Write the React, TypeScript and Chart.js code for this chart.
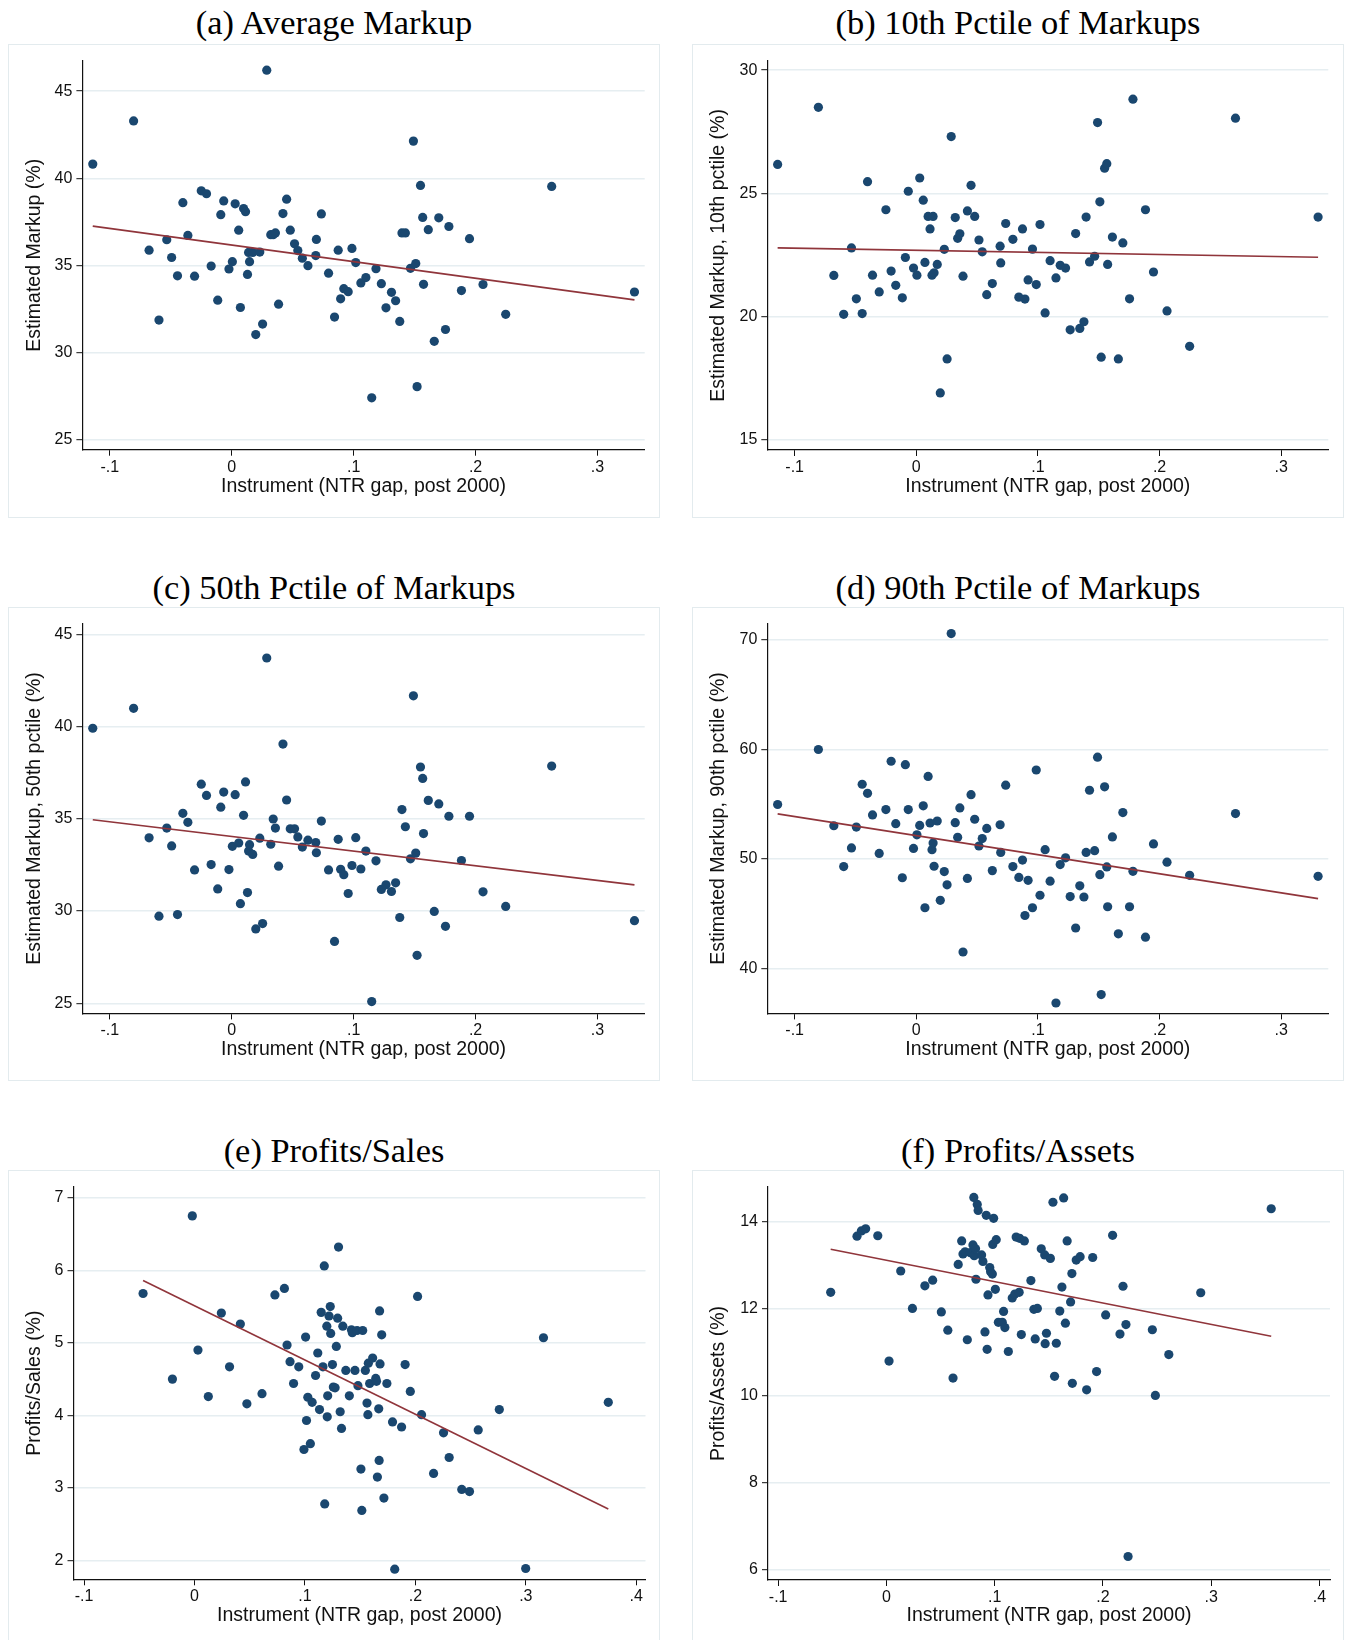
import React, { useEffect, useRef } from "react";
import { Chart, registerables } from "chart.js";

Chart.register(...registerables);

// ---- data -------------------------------------------------------------

// NTR gap instrument for the 82 industries used in the markup panels (a)-(d)
const instrument = [
  -0.114, -0.0805, -0.0678, -0.0597, -0.0533, -0.0493, -0.0445, -0.0401, -0.036, -0.0305,
  -0.025, -0.0207, -0.0169, -0.0115, -0.009, -0.0066, -0.0023, 0.0005, 0.0028, 0.0057,
  0.0071, 0.0097, 0.0113, 0.0129, 0.0138, 0.0146, 0.0172, 0.0197, 0.023, 0.0253,
  0.0287, 0.032, 0.034, 0.0358, 0.0384, 0.042, 0.045, 0.048, 0.0515, 0.0542,
  0.0579, 0.0625, 0.0689, 0.0694, 0.0735, 0.0794, 0.0843, 0.0873, 0.0893, 0.0919,
  0.0955, 0.0986, 0.1017, 0.1059, 0.11, 0.1148, 0.1183, 0.1227, 0.1265, 0.131,
  0.1344, 0.1378, 0.1396, 0.1424, 0.1466, 0.149, 0.1509, 0.152, 0.1548, 0.1566,
  0.1573, 0.1612, 0.1661, 0.1698, 0.1753, 0.1781, 0.1884, 0.195, 0.2061, 0.2247,
  0.2624, 0.3303,
];

const avgMarkup = [
  40.81, 43.29, 35.87, 31.86, 36.47, 35.45, 34.4, 38.6, 36.72, 34.38,
  39.28, 39.11, 34.96, 33.0, 37.91, 38.7, 34.79, 35.21, 38.53, 37.02,
  32.58, 38.26, 38.08, 34.48, 35.74, 35.21, 35.74, 31.03, 35.76, 31.63,
  46.2, 36.76, 36.76, 36.86, 32.77, 37.97, 38.8, 37.02, 36.24, 35.85,
  35.41, 34.98, 35.56, 36.49, 37.95, 34.55, 32.03, 35.87, 33.08, 33.66,
  33.49, 35.97, 35.16, 33.99, 34.3, 27.4, 34.81, 33.95, 32.56, 33.45,
  32.97, 31.78, 36.86, 36.86, 34.83, 42.13, 35.1, 28.04, 39.59, 37.75,
  33.91, 37.05, 30.64, 37.73, 31.32, 37.23, 33.55, 36.53, 33.9, 32.19,
  39.53, 33.47,
];

const p10Markup = [
  26.17, 28.49, 21.66, 20.08, 22.78, 20.71, 20.11, 25.47, 21.67, 20.99,
  24.33, 21.84, 21.26, 20.75, 22.39, 25.08, 21.96, 21.67, 25.62, 24.72,
  22.19, 24.06, 23.55, 21.67, 24.06, 21.77, 22.11, 16.89, 22.72, 18.27,
  27.3, 24.01, 23.17, 23.35, 21.63, 24.28, 25.32, 24.06, 23.1, 22.62,
  20.88, 21.33, 22.85, 22.17, 23.77, 23.13, 20.78, 23.55, 20.7, 21.48,
  22.73, 21.29, 23.73, 20.14, 22.26, 21.56, 22.07, 21.96, 19.45, 23.36,
  19.51, 19.78, 24.03, 22.21, 22.44, 27.87, 24.65, 18.34, 26.02, 26.2,
  22.11, 23.22, 18.27, 22.98, 20.71, 28.82, 24.33, 21.8, 20.22, 18.78,
  28.05, 24.03,
];

const p50Markup = [
  39.91, 40.99, 33.97, 29.72, 34.5, 33.53, 29.81, 35.3, 34.81, 32.23,
  36.88, 36.27, 32.52, 31.2, 35.63, 36.45, 32.25, 33.51, 36.31, 33.69,
  30.4, 35.19, 37.0, 31.0, 33.25, 33.6, 33.07, 29.03, 33.95, 29.32,
  43.72, 33.62, 34.99, 34.5, 32.43, 39.05, 36.02, 34.46, 34.46, 34.02,
  33.47, 33.84, 33.71, 33.16, 34.88, 32.23, 28.35, 33.89, 32.26, 31.97,
  30.95, 32.47, 33.98, 32.28, 33.25, 25.09, 32.72, 31.17, 31.42, 31.06,
  31.53, 29.65, 35.5, 34.57, 32.83, 41.67, 33.14, 27.6, 37.81, 37.19,
  34.2, 36.0, 29.98, 35.81, 29.17, 35.14, 32.74, 35.14, 31.04, 30.25,
  37.86, 29.48,
];

const p90Markup = [
  54.98, 60.0, 53.04, 49.31, 51.01, 52.92, 56.83, 56.0, 54.03, 50.51,
  54.52, 58.93, 53.23, 48.29, 58.62, 54.52, 50.97, 52.21, 53.07, 54.86,
  45.55, 57.54, 53.29, 50.85, 51.47, 49.34, 53.47, 46.23, 48.85, 47.64,
  70.59, 53.32, 51.99, 54.67, 41.51, 48.23, 55.88, 53.63, 51.19, 51.87,
  52.79, 48.94, 53.13, 50.6, 56.74, 49.31, 48.32, 49.9, 44.84, 48.05,
  45.55, 58.13, 46.69, 50.85, 47.98, 36.85, 49.49, 50.11, 46.57, 43.7,
  47.55, 46.53, 50.6, 56.28, 50.76, 59.3, 48.57, 37.62, 56.59, 49.28,
  45.64, 52.02, 43.17, 54.24, 45.64, 48.88, 42.86, 51.38, 49.71, 48.51,
  54.15, 48.42,
];

// Profits / sales sample
const salesInstrument = [
  -0.0466, -0.02, -0.002, 0.0031, 0.0125, 0.0243, 0.0317, 0.0415, 0.0474, 0.0611,
  0.0728, 0.0814, 0.0838, 0.0865, 0.0897, 0.0944, 0.0991, 0.1006, 0.1014, 0.1026,
  0.1049, 0.1065, 0.1096, 0.1116, 0.1132, 0.1147, 0.1163, 0.1175, 0.1179, 0.1198,
  0.1202, 0.1206, 0.1218, 0.1229, 0.1233, 0.1249, 0.1257, 0.1273, 0.1284, 0.1296,
  0.1304, 0.1319, 0.1331, 0.1343, 0.137, 0.1402, 0.1421, 0.1429, 0.1453, 0.1472,
  0.148, 0.1507, 0.1515, 0.1523, 0.1547, 0.1562, 0.157, 0.1574, 0.1586, 0.1613,
  0.1641, 0.1648, 0.1656, 0.1668, 0.1672, 0.1676, 0.168, 0.1695, 0.1715, 0.1742,
  0.1793, 0.1813, 0.1875, 0.1907, 0.1954, 0.202, 0.2056, 0.2165, 0.2255, 0.2306,
  0.242, 0.249, 0.2569, 0.276, 0.2999, 0.316, 0.3747,
];

const profitsSales = [
  5.68, 4.5, 6.75, 4.9, 4.26, 5.41, 4.67, 5.26, 4.16, 4.3,
  5.66, 5.75, 4.97, 4.74, 4.44, 4.67, 3.53, 5.08, 3.93, 4.25,
  3.61, 4.18, 4.55, 4.86, 4.08, 5.42, 4.67, 6.06, 2.78, 5.23,
  3.98, 4.27, 5.37, 5.5, 5.13, 4.7, 4.39, 4.38, 4.95, 5.34,
  6.32, 4.05, 3.82, 5.23, 4.62, 4.27, 5.18, 5.14, 4.62, 5.17,
  4.41, 3.26, 2.69, 5.17, 4.62, 4.17, 4.01, 4.72, 4.44, 4.79,
  4.51, 4.47, 3.15, 4.09, 3.38, 5.44, 4.71, 5.11, 2.86, 4.44,
  3.91, 1.88, 3.84, 4.7, 4.33, 5.64, 4.01, 3.2, 3.76, 3.42,
  2.98, 2.95, 3.8, 4.08, 1.89, 5.07, 4.18,
];

// Profits / assets sample
const assetsInstrument = [
  -0.0515, -0.0272, -0.0232, -0.0192, -0.008, 0.0024, 0.0132, 0.024, 0.0355, 0.0427,
  0.0507, 0.0567, 0.0615, 0.0663, 0.0695, 0.0707, 0.0727, 0.0747, 0.0775, 0.0799,
  0.0807, 0.0811, 0.0823, 0.0827, 0.0839, 0.0847, 0.0879, 0.0891, 0.091, 0.0922,
  0.093, 0.0938, 0.0954, 0.0962, 0.0978, 0.0982, 0.099, 0.1006, 0.1014, 0.1034,
  0.107, 0.1082, 0.1094, 0.1126, 0.1162, 0.1186, 0.1198, 0.1226, 0.123, 0.1246,
  0.1274, 0.1334, 0.1362, 0.1374, 0.1394, 0.143, 0.1462, 0.1466, 0.1478, 0.1514,
  0.1538, 0.1553, 0.1569, 0.1601, 0.1621, 0.1637, 0.1653, 0.1669, 0.1701, 0.1713,
  0.1717, 0.1753, 0.1789, 0.1849, 0.1905, 0.1941, 0.2025, 0.2089, 0.2157, 0.2185,
  0.2212, 0.2232, 0.2456, 0.2484, 0.2608, 0.2903, 0.3554,
];

const profitsAssets = [
  12.37, 13.66, 13.78, 13.83, 13.67, 10.79, 12.86, 12.0, 12.52, 12.65,
  11.92, 11.5, 10.4, 13.01, 13.55, 13.25, 13.3, 11.28, 13.28, 13.46,
  14.55, 13.21, 13.37, 12.67, 14.39, 14.25, 13.23, 13.08, 11.46, 14.14,
  11.06, 12.31, 12.94, 12.84, 12.79, 13.47, 14.07, 12.44, 13.58, 11.68,
  11.68, 11.93, 11.56, 11.01, 12.24, 12.33, 13.64, 12.37, 13.61, 11.4,
  13.55, 12.64, 11.98, 11.3, 12.0, 13.37, 13.23, 11.19, 11.43, 13.15,
  14.44, 10.44, 11.2, 11.94, 12.49, 14.54, 11.66, 13.55, 12.15, 12.8,
  10.28, 13.11, 13.19, 10.13, 13.17, 10.55, 11.85, 13.68, 11.41, 12.51,
  11.63, 6.3, 11.51, 10.0, 10.94, 12.36, 14.29,
];

// Linear fits: [x, y] at each end of the fitted line
const avgFit = [[-0.114, 37.25], [0.3303, 33.02]];
const p10Fit = [[-0.114, 22.78], [0.3303, 22.4]];
const p50Fit = [[-0.114, 34.95], [0.3303, 31.42]];
const p90Fit = [[-0.114, 54.12], [0.3303, 46.38]];
const salesFit = [[-0.0466, 5.86], [0.3747, 2.71]];
const assetsFit = [[-0.0515, 13.36], [0.3554, 11.36]];

// Tick values
const markupXTicks = [-0.1, 0, 0.1, 0.2, 0.3];
const profitXTicks = [-0.1, 0, 0.1, 0.2, 0.3, 0.4];
const avgYTicks = [25, 30, 35, 40, 45];
const p10YTicks = [15, 20, 25, 30];
const p50YTicks = [25, 30, 35, 40, 45];
const p90YTicks = [40, 50, 60, 70];
const salesYTicks = [2, 3, 4, 5, 6, 7];
const assetsYTicks = [6, 8, 10, 12, 14];

const xTitle = "Instrument (NTR gap, post 2000)";

// ---- styling ----------------------------------------------------------

const SANS = "'Liberation Sans', Arial, Helvetica, sans-serif";
const SERIF = "'Liberation Serif', 'Times New Roman', serif";
const NAVY = "#1a476f";
const MAROON = "#90353b";
const GRID = "#e6eef1";
const FRAME = "#e3ebee";
const AXIS = "#111111";

const fmtX = (v: number) => {
  const r = Math.round(v * 10) / 10;
  if (r === 0) return "0";
  const s = Math.abs(r).toString().replace(/^0/, "");
  return (r < 0 ? "-" : "") + s;
};

type PanelSpec = {
  title: string;
  yTitle: string;
  xs: number[];
  ys: number[];
  fit: number[][];
  xTicks: number[];
  yTicks: number[];
  xRange: [number, number];
  yRange: [number, number];
  box: { left: number; top: number; width: number; height: number };
  area: { left: number; top: number; right: number; bottom: number };
  titleY: number;
  xTitleOffset: number;
};

const COL_L = 8;
const COL_R = 692;
const BOX_W = 652;
const BOX_H = 474;
const ROW_T = [44, 607, 1170];

const panels: PanelSpec[] = [
  {
    title: "(a) Average Markup",
    yTitle: "Estimated Markup (%)",
    xs: instrument, ys: avgMarkup, fit: avgFit,
    xTicks: markupXTicks, yTicks: avgYTicks,
    xRange: [-0.1225, 0.3387], yRange: [24.42, 46.74],
    box: { left: COL_L, top: ROW_T[0], width: BOX_W, height: BOX_H },
    area: { left: 74.4, top: 16.8, right: 15.3, bottom: 68.3 },
    titleY: 22, xTitleOffset: 31,
  },
  {
    title: "(b) 10th Pctile of Markups",
    yTitle: "Estimated Markup, 10th pctile (%)",
    xs: instrument, ys: p10Markup, fit: p10Fit,
    xTicks: markupXTicks, yTicks: p10YTicks,
    xRange: [-0.1225, 0.3387], yRange: [14.57, 30.38],
    box: { left: COL_R, top: ROW_T[0], width: BOX_W, height: BOX_H },
    area: { left: 75.3, top: 16.8, right: 15.7, bottom: 68 },
    titleY: 22, xTitleOffset: 31,
  },
  {
    title: "(c) 50th Pctile of Markups",
    yTitle: "Estimated Markup, 50th pctile (%)",
    xs: instrument, ys: p50Markup, fit: p50Fit,
    xTicks: markupXTicks, yTicks: p50YTicks,
    xRange: [-0.1225, 0.3387], yRange: [24.45, 45.59],
    box: { left: COL_L, top: ROW_T[1], width: BOX_W, height: BOX_H },
    area: { left: 74.4, top: 16.5, right: 15.3, bottom: 67.6 },
    titleY: 587, xTitleOffset: 31,
  },
  {
    title: "(d) 90th Pctile of Markups",
    yTitle: "Estimated Markup, 90th pctile (%)",
    xs: instrument, ys: p90Markup, fit: p90Fit,
    xTicks: markupXTicks, yTicks: p90YTicks,
    xRange: [-0.1225, 0.3387], yRange: [35.9, 71.51],
    box: { left: COL_R, top: ROW_T[1], width: BOX_W, height: BOX_H },
    area: { left: 75.3, top: 16.5, right: 15.7, bottom: 67.6 },
    titleY: 587, xTitleOffset: 31,
  },
  {
    title: "(e) Profits/Sales",
    yTitle: "Profits/Sales (%)",
    xs: salesInstrument, ys: profitsSales, fit: salesFit,
    xTicks: profitXTicks, yTicks: salesYTicks,
    xRange: [-0.1096, 0.4084], yRange: [1.741, 7.148],
    box: { left: COL_L, top: ROW_T[2], width: BOX_W, height: BOX_H },
    area: { left: 65.5, top: 17, right: 14.5, bottom: 64.7 },
    titleY: 1150, xTitleOffset: 28.5,
  },
  {
    title: "(f) Profits/Assets",
    yTitle: "Profits/Assets (%)",
    xs: assetsInstrument, ys: profitsAssets, fit: assetsFit,
    xTicks: profitXTicks, yTicks: assetsYTicks,
    xRange: [-0.1094, 0.4097], yRange: [5.76, 14.79],
    box: { left: COL_R, top: ROW_T[2], width: BOX_W, height: BOX_H },
    area: { left: 76, top: 17, right: 14, bottom: 64 },
    titleY: 1150, xTitleOffset: 28.5,
  },
];

const TITLE_FONT = 19.5;
const TITLE_LH = TITLE_FONT * 1.2;
const TICK_FONT = 16;

function ScatterPanel({ spec }: { spec: PanelSpec }) {
  const ref = useRef<HTMLCanvasElement | null>(null);

  useEffect(() => {
    const canvas = ref.current;
    if (!canvas) return;
    const points = spec.xs.map((x, i) => ({ x, y: spec.ys[i] }));
    const fitPts = spec.fit.map(([x, y]) => ({ x, y }));
    const yTitleCenter = 26.5;

    const chart = new Chart(canvas, {
      type: "scatter",
      data: {
        datasets: [
          {
            type: "line",
            data: fitPts,
            borderColor: MAROON,
            borderWidth: 1.6,
            pointRadius: 0,
            fill: false,
            order: 0,
          } as any,
          {
            type: "scatter",
            data: points,
            backgroundColor: NAVY,
            borderColor: NAVY,
            borderWidth: 0,
            pointRadius: 4.6,
            order: 1,
          },
        ],
      },
      options: {
        animation: false,
        responsive: false,
        devicePixelRatio: 1,
        events: [],
        layout: {
          padding: { left: 0, top: spec.area.top, right: spec.area.right, bottom: 0 },
        },
        plugins: {
          legend: { display: false },
          tooltip: { enabled: false },
          title: { display: false },
        },
        scales: {
          x: {
            type: "linear",
            position: "bottom",
            min: spec.xRange[0],
            max: spec.xRange[1],
            afterBuildTicks: (scale: any) => {
              scale.ticks = spec.xTicks.map((v) => ({ value: v }));
            },
            afterFit: (scale: any) => {
              scale.height = spec.area.bottom;
            },
            ticks: {
              callback: (v: any) => fmtX(Number(v)),
              font: { family: SANS, size: TICK_FONT },
              color: AXIS,
              padding: 2,
              maxRotation: 0,
              autoSkip: false,
            },
            grid: {
              display: true,
              drawOnChartArea: false,
              drawTicks: true,
              tickLength: 6,
              tickColor: AXIS,
              tickWidth: 1,
            },
            border: { display: true, color: AXIS, width: 1.2 },
            title: {
              display: true,
              text: xTitle,
              font: { family: SANS, size: TITLE_FONT },
              color: AXIS,
              padding: { top: 0, bottom: spec.xTitleOffset - TITLE_LH / 2 },
            },
          },
          y: {
            type: "linear",
            position: "left",
            min: spec.yRange[0],
            max: spec.yRange[1],
            afterBuildTicks: (scale: any) => {
              scale.ticks = spec.yTicks.map((v) => ({ value: v }));
            },
            afterFit: (scale: any) => {
              scale.width = spec.area.left;
            },
            ticks: {
              callback: (v: any) => String(v),
              font: { family: SANS, size: TICK_FONT },
              color: AXIS,
              padding: 4,
              autoSkip: false,
            },
            grid: {
              display: true,
              drawOnChartArea: true,
              drawTicks: true,
              tickLength: 6,
              color: GRID,
              lineWidth: 1.4,
              tickColor: AXIS,
              tickWidth: 1,
            },
            border: { display: true, color: AXIS, width: 1.2 },
            title: {
              display: true,
              text: spec.yTitle,
              font: { family: SANS, size: TITLE_FONT },
              color: AXIS,
              padding: { top: yTitleCenter - TITLE_LH / 2, bottom: 0 },
            },
          },
        },
      },
    });
    return () => chart.destroy();
  }, [spec]);

  const { box } = spec;
  return (
    <>
      <div
        style={{
          position: "absolute",
          left: box.left,
          top: spec.titleY - 20,
          width: box.width,
          height: 40,
          lineHeight: "40px",
          textAlign: "center",
          fontFamily: SERIF,
          fontSize: 34.4,
          color: "#000",
          whiteSpace: "nowrap",
        }}
      >
        {spec.title}
      </div>
      <div
        style={{
          position: "absolute",
          left: box.left,
          top: box.top,
          width: box.width,
          height: box.height,
          background: "#fff",
        }}
      >
        <canvas
          ref={ref}
          width={box.width}
          height={box.height}
          style={{ position: "absolute", left: 0, top: 0, width: box.width, height: box.height }}
        />
        <div
          style={{
            position: "absolute",
            inset: 0,
            border: `1.5px solid ${FRAME}`,
            pointerEvents: "none",
          }}
        />
      </div>
    </>
  );
}

export default function App() {
  return (
    <div
      style={{
        position: "absolute",
        left: 0,
        top: 0,
        width: 1351,
        height: 1640,
        overflow: "hidden",
        background: "#fff",
      }}
    >
      {panels.map((p) => (
        <ScatterPanel key={p.title} spec={p} />
      ))}
    </div>
  );
}
